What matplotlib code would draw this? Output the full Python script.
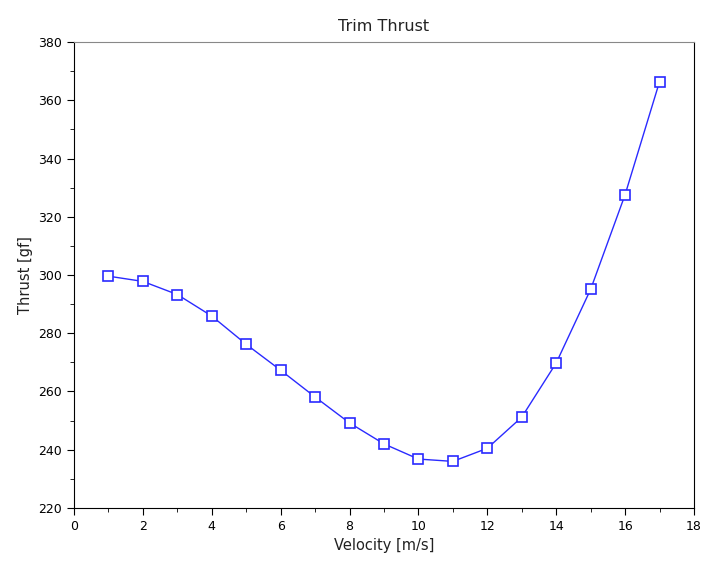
import numpy as np
import matplotlib.pyplot as plt
from matplotlib.ticker import MultipleLocator

velocity = [1, 2, 3, 4, 5, 6, 7, 8, 9, 10, 11, 12, 13, 14, 15, 16, 17]
thrust = [299.6, 297.8, 293.3, 285.9, 276.2, 267.3, 258.1, 249.2, 242.0,
          236.8, 236.0, 240.5, 251.2, 269.8, 295.1, 327.6, 366.4]

fig = plt.figure(figsize=(7.02, 5.61), dpi=100)
ax = fig.add_axes([0.1054, 0.0945, 0.8832, 0.8306])
ax.plot(velocity, thrust, color='#2a2aff', lw=1, marker='s', ms=7.5,
        mfc='white', mec='#2a2aff', mew=1.2)

ax.set_xlim(0, 18)
ax.set_ylim(220, 380)
ax.xaxis.set_major_locator(MultipleLocator(2))
ax.xaxis.set_minor_locator(MultipleLocator(1))
ax.yaxis.set_major_locator(MultipleLocator(20))
ax.yaxis.set_minor_locator(MultipleLocator(10))
ax.tick_params(which='both', direction='out', top=False, right=False,
               labelsize=9)
ax.tick_params(which='major', length=5)
ax.tick_params(which='minor', length=3)
ax.spines['top'].set_color('#888888')

ax.set_title('Trim Thrust', fontsize=11.5, pad=8, color='#222222')
ax.set_xlabel('Velocity [m/s]', fontsize=10.5, color='#222222')
ax.set_ylabel('Thrust [gf]', fontsize=10.5, color='#222222')

plt.savefig('out.png', dpi=100)
